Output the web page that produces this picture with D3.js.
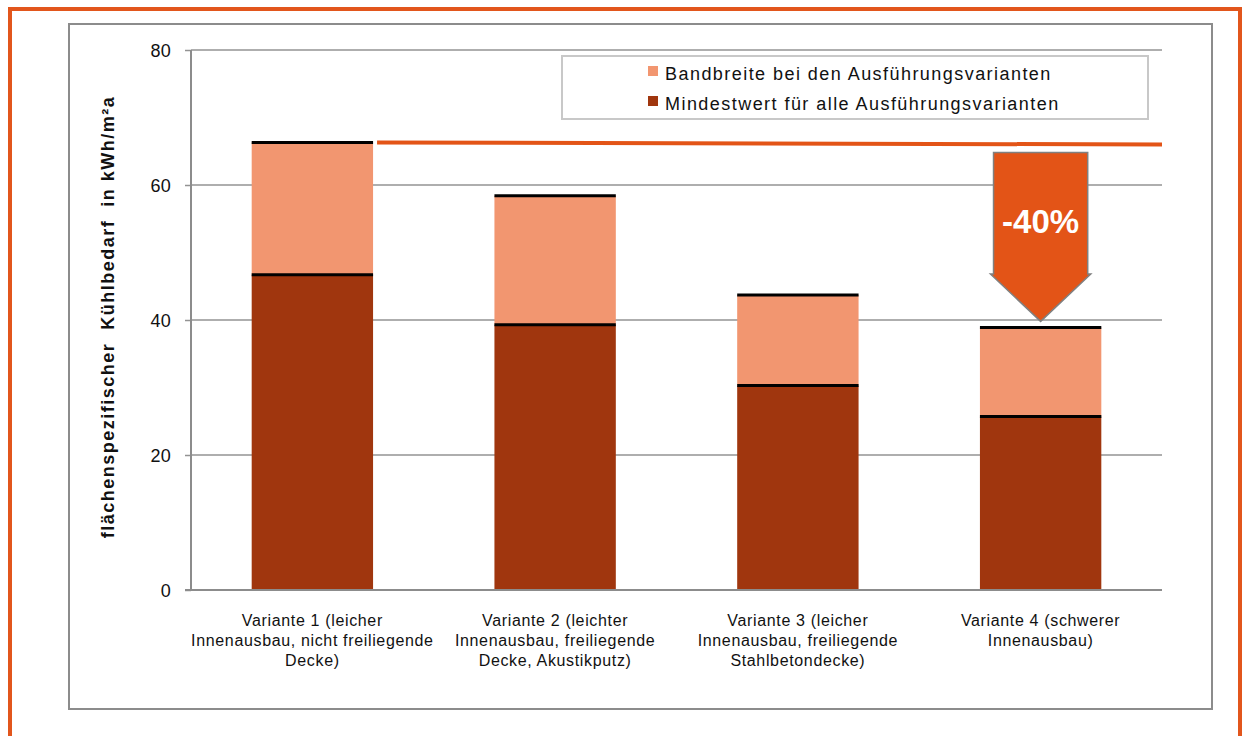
<!DOCTYPE html>
<html>
<head>
<meta charset="utf-8">
<script src="https://cdn.jsdelivr.net/npm/d3@7/dist/d3.min.js"></script>
<style>
  html, body { margin: 0; padding: 0; background: #fff; }
  svg { display: block; font-family: "Liberation Sans", Arial, sans-serif; }
</style>
</head>
<body>
<svg id="chart" width="1242" height="736"></svg>
<script>
// ---- data ----
const categories = ["Variante 1", "Variante 2", "Variante 3", "Variante 4"];
const categoryLabels = [
  ["Variante 1 (leicher", "Innenausbau, nicht freiliegende", "Decke)"],
  ["Variante 2 (leichter", "Innenausbau, freiliegende", "Decke, Akustikputz)"],
  ["Variante 3 (leicher", "Innenausbau, freiliegende", "Stahlbetondecke)"],
  ["Variante 4 (schwerer", "Innenausbau)"]
];
const minValues = [46.7, 39.3, 30.3, 25.7];   // Mindestwert
const maxValues = [66.3, 58.4, 43.7, 38.9];   // Mindestwert + Bandbreite
const yTicks = [0, 20, 40, 60, 80];
const seriesNames = ["Bandbreite bei den Ausführungsvarianten", "Mindestwert für alle Ausführungsvarianten"];
const refLineValues = [66.3, 66.0];            // reference line start / end
const arrowValues = [64.8, 46.8, 39.8];        // arrow top, shoulder, tip
const arrowLabel = "-40%";
const yTitle = "flächenspezifischer  Kühlbedarf  in kWh/m²a";

(function () {
// ---- styles ----
const colLight = "#F29670";
const colDark = "#A0360E";
const colOrange = "#E35417";
const colGrid = "#939393";

const svg = d3.select("#chart");

// frames
svg.append("rect").attr("x", 10).attr("y", 9).attr("width", 1230).attr("height", 800)
  .attr("fill", "none").attr("stroke", "#E2561C").attr("stroke-width", 4);
svg.append("rect").attr("x", 69).attr("y", 24).attr("width", 1143).attr("height", 685)
  .attr("fill", "none").attr("stroke", "#8c8c8c").attr("stroke-width", 2);

const pLeft = 191, pRight = 1162, pTop = 50, pBottom = 590;
const y = d3.scaleLinear().domain([0, 80]).range([pBottom, pTop]);
const x = d3.scaleBand().domain(categories).range([pLeft, pRight]).paddingInner(0.5).paddingOuter(0.25);

// gridlines
svg.append("g").selectAll("line").data(yTicks.filter(t => t > 0)).join("line")
  .attr("x1", pLeft).attr("x2", pRight)
  .attr("y1", d => y(d)).attr("y2", d => y(d))
  .attr("stroke", colGrid).attr("stroke-width", 1.5);

// y axis
const yAxis = d3.axisLeft(y).tickValues(yTicks).tickSize(6).tickPadding(14);
const gy = svg.append("g").attr("transform", `translate(${pLeft},0)`).call(yAxis);
gy.select(".domain").remove();
gy.selectAll(".tick line").attr("stroke", colGrid).attr("stroke-width", 1.5);
gy.selectAll(".tick text")
  .attr("font-family", "'Liberation Sans', Arial, sans-serif")
  .attr("font-size", 18).attr("fill", "#111").attr("letter-spacing", 0.3)
  .attr("dy", "0.36em");
svg.append("line").attr("x1", pLeft).attr("x2", pLeft).attr("y1", pTop).attr("y2", pBottom)
  .attr("stroke", "#8c8c8c").attr("stroke-width", 2);

// bars
const bars = svg.append("g");
bars.selectAll("rect.dark").data(categories).join("rect").attr("class", "dark")
  .attr("x", d => x(d)).attr("width", x.bandwidth())
  .attr("y", (d, i) => y(minValues[i])).attr("height", (d, i) => y(0) - y(minValues[i]))
  .attr("fill", colDark);
bars.selectAll("rect.light").data(categories).join("rect").attr("class", "light")
  .attr("x", d => x(d)).attr("width", x.bandwidth())
  .attr("y", (d, i) => y(maxValues[i])).attr("height", (d, i) => y(minValues[i]) - y(maxValues[i]))
  .attr("fill", colLight);
// black boundary lines
const marks = [];
categories.forEach((c, i) => { marks.push({ c, v: minValues[i] }); marks.push({ c, v: maxValues[i] }); });
bars.selectAll("line.mark").data(marks).join("line").attr("class", "mark")
  .attr("x1", d => x(d.c)).attr("x2", d => x(d.c) + x.bandwidth())
  .attr("y1", d => y(d.v)).attr("y2", d => y(d.v))
  .attr("stroke", "#000").attr("stroke-width", 3);

// x axis line
svg.append("line").attr("x1", pLeft - 6).attr("x2", pRight).attr("y1", pBottom).attr("y2", pBottom)
  .attr("stroke", "#8c8c8c").attr("stroke-width", 2);

// category labels
const lbl = svg.append("g");
categories.forEach((c, i) => {
  const t = lbl.append("text")
    .attr("x", x(c) + x.bandwidth() / 2).attr("y", 626)
    .attr("text-anchor", "middle").attr("font-size", 16).attr("letter-spacing", 0.65).attr("fill", "#111");
  categoryLabels[i].forEach((line, k) => {
    t.append("tspan").attr("x", x(c) + x.bandwidth() / 2).attr("dy", k === 0 ? 0 : 20).text(line);
  });
});

// y title
svg.append("text")
  .attr("transform", "translate(114,317) rotate(-90)")
  .attr("text-anchor", "middle").attr("font-size", 18).attr("font-weight", "bold")
  .attr("letter-spacing", 1.5).attr("fill", "#111")
  .style("white-space", "pre")
  .text(yTitle);

// reference line
const last = categories[categories.length - 1];
svg.append("line")
  .attr("x1", x(categories[0]) + x.bandwidth() + 4).attr("x2", pRight)
  .attr("y1", y(refLineValues[0])).attr("y2", y(refLineValues[1]))
  .attr("stroke", colOrange).attr("stroke-width", 4);

// arrow
const cx = x(last) + x.bandwidth() / 2;
const sw = x.bandwidth() * 0.388, hw = x.bandwidth() * 0.413;
const arrowPts = [
  [cx - sw, y(arrowValues[0])], [cx + sw, y(arrowValues[0])],
  [cx + sw, y(arrowValues[1])], [cx + hw, y(arrowValues[1])],
  [cx, y(arrowValues[2])],
  [cx - hw, y(arrowValues[1])], [cx - sw, y(arrowValues[1])]
];
svg.append("polygon").attr("points", arrowPts.map(p => p.join(",")).join(" "))
  .attr("fill", colOrange).attr("stroke", "#808080").attr("stroke-width", 1.5);
svg.append("text").attr("x", cx).attr("y", 233).attr("text-anchor", "middle")
  .attr("font-size", 33).attr("font-weight", "bold").attr("fill", "#fff").text(arrowLabel);

// legend
svg.append("rect").attr("x", 562).attr("y", 56).attr("width", 586).attr("height", 63)
  .attr("fill", "#fff").attr("stroke", "#c8c8c8").attr("stroke-width", 2);
const legColors = [colLight, colDark];
seriesNames.forEach((n, i) => {
  svg.append("rect").attr("x", 648).attr("y", 66 + i * 30).attr("width", 10).attr("height", 10)
    .attr("fill", legColors[i]);
  svg.append("text").attr("x", 665).attr("y", 80 + i * 30)
    .attr("font-size", 18).attr("letter-spacing", 1.45).attr("fill", "#111").text(n);
});
})();
</script>
</body>
</html>
